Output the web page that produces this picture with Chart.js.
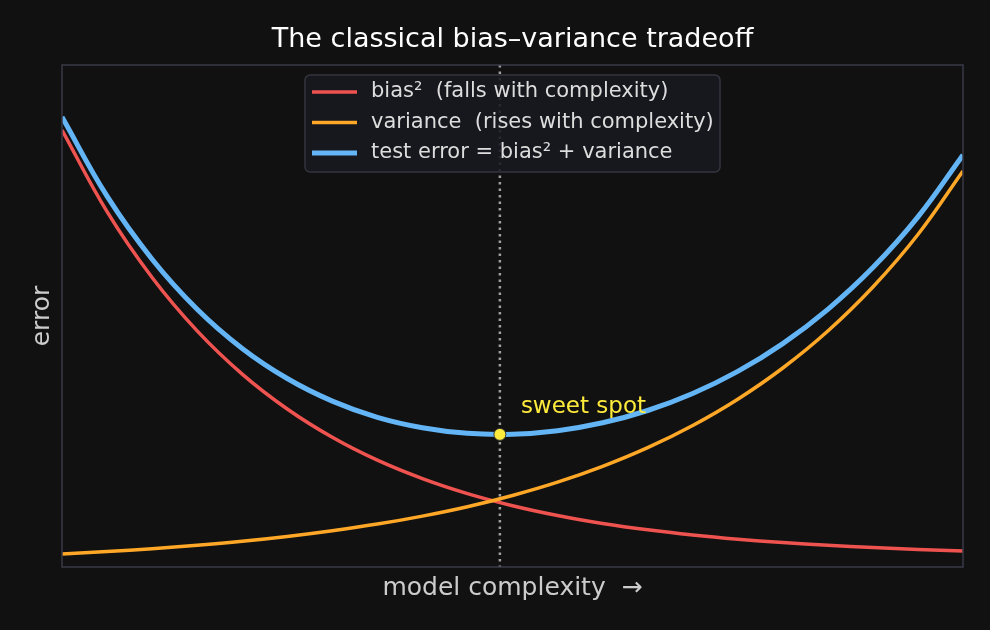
<!DOCTYPE html>
<html>
<head>
<meta charset="utf-8">
<script src="https://cdn.jsdelivr.net/npm/chart.js@4.4.1/dist/chart.umd.min.js"></script>
<style>
  html, body { margin: 0; padding: 0; background: #111111; }
  #wrap { width: 990px; height: 630px; }
</style>
</head>
<body>
<div id="wrap"><canvas id="chart" width="990" height="630"></canvas></div>
<script>
// Data (model complexity 0..1, error in plot units)
const complexity = [0, 0.05, 0.1, 0.15, 0.2, 0.25, 0.3, 0.35, 0.4, 0.45, 0.5,
                    0.55, 0.6, 0.65, 0.7, 0.75, 0.8, 0.85, 0.9, 0.95, 1];
const bias2 = [4.370, 3.554, 2.895, 2.361, 1.929, 1.580, 1.297, 1.068, 0.884, 0.734, 0.613,
               0.515, 0.436, 0.372, 0.320, 0.278, 0.244, 0.217, 0.194, 0.176, 0.161];
const variance = [0.130, 0.154, 0.183, 0.217, 0.257, 0.305, 0.362, 0.429, 0.509, 0.603, 0.715,
                  0.848, 1.006, 1.193, 1.415, 1.678, 1.990, 2.360, 2.800, 3.325, 3.960];
const testError = [4.500, 3.708, 3.078, 2.578, 2.186, 1.885, 1.659, 1.497, 1.393, 1.337, 1.328,
                   1.363, 1.442, 1.565, 1.735, 1.956, 2.234, 2.577, 2.994, 3.501, 4.121];
const sweetSpot = { x: 0.486, y: 1.326 };

const FONT = "'DejaVu Sans', sans-serif";
const pts = ys => complexity.map((x, i) => ({ x: x, y: ys[i] }));

// title over the plot, frame, dotted marker, sweet spot label and legend box
const decor = {
  id: 'decor',
  beforeDatasetsDraw(chart) {
    const { ctx, chartArea: a, scales } = chart;
    const px = scales.x.getPixelForValue(sweetSpot.x);
    ctx.save();
    ctx.strokeStyle = '#a0a0a0';
    ctx.lineWidth = 2.5;
    ctx.setLineDash([2.5, 4]);
    ctx.beginPath();
    ctx.moveTo(px, a.top);
    ctx.lineTo(px, a.bottom);
    ctx.stroke();
    ctx.restore();
  },
  afterDatasetsDraw(chart) {
    const { ctx, chartArea: a, scales } = chart;
    ctx.save();
    ctx.strokeStyle = '#3a3a48';
    ctx.lineWidth = 1.5;
    ctx.strokeRect(a.left, a.top, a.right - a.left, a.bottom - a.top);

    ctx.fillStyle = '#ffffff';
    ctx.font = '27px ' + FONT;
    ctx.textAlign = 'center';
    ctx.textBaseline = 'middle';
    ctx.fillText('The classical bias–variance tradeoff', (a.left + a.right) / 2, 40);

    const px = scales.x.getPixelForValue(sweetSpot.x);
    const py = scales.y.getPixelForValue(sweetSpot.y);
    ctx.fillStyle = '#ffeb3b';
    ctx.font = '23px ' + FONT;
    ctx.textAlign = 'left';
    ctx.fillText('sweet spot', px + 21, py - 27);
    ctx.restore();
  },
  afterDraw(chart) {
    const { ctx } = chart;
    const items = chart.data.datasets.filter(d => d.inLegend);
    const bx = 305, by = 75, bw = 415, bh = 97;
    ctx.save();
    ctx.fillStyle = 'rgba(24,24,32,0.88)';
    ctx.strokeStyle = '#35353f';
    ctx.lineWidth = 1.5;
    ctx.beginPath();
    ctx.roundRect(bx, by, bw, bh, 5);
    ctx.fill();
    ctx.stroke();
    ctx.font = '21px ' + FONT;
    ctx.textBaseline = 'middle';
    items.forEach((d, i) => {
      const y = 92 + i * 30.5;
      ctx.strokeStyle = d.borderColor;
      ctx.lineWidth = d.borderWidth;
      ctx.beginPath();
      ctx.moveTo(312, y);
      ctx.lineTo(357, y);
      ctx.stroke();
      ctx.fillStyle = '#dddddd';
      ctx.fillText(d.label, 371, y);
    });
    ctx.restore();
  }
};

new Chart(document.getElementById('chart'), {
  type: 'line',
  data: {
    datasets: [
      { label: 'sweet', type: 'scatter', data: [sweetSpot], order: 0,
        pointRadius: 6, pointBackgroundColor: '#ffeb3b', pointBorderColor: '#333333',
        pointBorderWidth: 1, showLine: false },
      { label: 'bias²  (falls with complexity)', data: pts(bias2), inLegend: true, order: 3,
        borderColor: '#ef5350', borderWidth: 3.5, pointRadius: 0, tension: 0.4 },
      { label: 'variance  (rises with complexity)', data: pts(variance), inLegend: true, order: 2,
        borderColor: '#ffa726', borderWidth: 3.5, pointRadius: 0, tension: 0.4 },
      { label: 'test error = bias² + variance', data: pts(testError), inLegend: true, order: 1,
        borderColor: '#64b5f6', borderWidth: 5, pointRadius: 0, tension: 0.4 }
    ]
  },
  options: {
    responsive: false,
    animation: false,
    layout: { padding: { top: 65, right: 27 } },
    plugins: {
      legend: { display: false },
      tooltip: { enabled: false },
      title: { display: false }
    },
    scales: {
      x: {
        type: 'linear', min: 0, max: 1,
        grid: { display: false }, border: { display: false },
        ticks: { display: false },
        title: { display: true, text: 'model complexity  →', color: '#cccccc',
                 font: { family: FONT, size: 25 }, padding: { top: 0, bottom: 27 } },
        afterFit(s) { s.height = 63; }
      },
      y: {
        min: 0, max: 5.02,
        grid: { display: false }, border: { display: false },
        ticks: { display: false },
        title: { display: true, text: 'error', color: '#cccccc',
                 font: { family: FONT, size: 25 }, padding: { top: 27, bottom: 0 } },
        afterFit(s) { s.width = 62; }
      }
    }
  },
  plugins: [decor]
});
</script>
</body>
</html>
